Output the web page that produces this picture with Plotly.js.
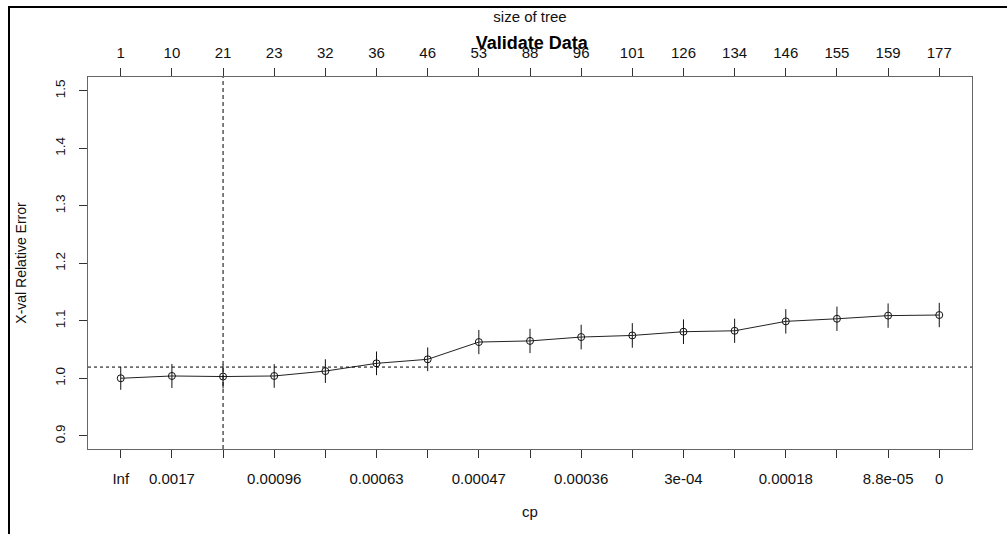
<!DOCTYPE html>
<html>
<head>
<meta charset="utf-8">
<script src="https://cdn.plot.ly/plotly-3.0.1.min.js"></script>
<style>
  html, body { margin: 0; padding: 0; background: #fff; }
  #wrap { position: relative; width: 1007px; height: 534px; overflow: hidden; }
  #chart { position: absolute; left: 0; top: 0; width: 1007px; height: 534px; }
  #frame { position: absolute; left: 8px; top: 6px; right: -4px; bottom: -4px;
           border-top: 2px solid #000; border-left: 2px solid #000; pointer-events: none; }
</style>
</head>
<body>
<div id="wrap">
  <div id="chart"></div>
  <div id="frame"></div>
</div>
<script>
// ---- data ----
const sizeOfTree = [1, 10, 21, 23, 32, 36, 46, 53, 88, 96, 101, 126, 134, 146, 155, 159, 177];
const cpLabels = ["Inf", "0.0017", "", "0.00096", "", "0.00063", "", "0.00047", "", "0.00036", "", "3e-04", "", "0.00018", "", "8.8e-05", "0"];
const positions = [1, 2, 3, 4, 5, 6, 7, 8, 9, 10, 11, 12, 13, 14, 15, 16, 17];
const xerror = [1.000, 1.004, 1.003, 1.004, 1.0125, 1.026, 1.033, 1.063, 1.065, 1.0717, 1.0745, 1.081, 1.0826, 1.099, 1.1035, 1.109, 1.110];
const xstd = [0.0200, 0.0209, 0.0207, 0.0206, 0.0206, 0.0206, 0.0206, 0.0210, 0.0212, 0.0214, 0.0214, 0.0214, 0.0210, 0.0212, 0.0212, 0.0212, 0.0212];
const yTickVals = [0.9, 1.0, 1.1, 1.2, 1.3, 1.4, 1.5];
const yTickText = ["0.9", "1.0", "1.1", "1.2", "1.3", "1.4", "1.5"];
const thresholdLine = 1.0195;   // min xerror + its std
const selectedPosition = 3;     // chosen tree (size 21)

const FONT = "Liberation Sans, Arial, sans-serif";
const xRange = [0.36, 17.64];
const yRange = [0.877, 1.524];

const traces = [
  {
    x: positions, y: xerror, type: "scatter", mode: "lines+markers",
    line: { color: "#222", width: 1 },
    marker: { symbol: "circle-open", size: 7, color: "#111", line: { width: 1 } },
    error_y: { type: "data", array: xstd, visible: true, color: "#111", thickness: 1, width: 0 },
    hoverinfo: "x+y", showlegend: false
  },
  {
    x: positions, y: xerror, xaxis: "x2", type: "scatter", mode: "markers",
    marker: { opacity: 0, size: 1 }, hoverinfo: "skip", showlegend: false
  }
];

const layout = {
  width: 1007, height: 534,
  margin: { l: 88, r: 35, t: 77, b: 85, pad: 0 },
  paper_bgcolor: "#fff", plot_bgcolor: "#fff",
  font: { family: FONT, size: 14, color: "#111" },
  showlegend: false,
  title: {
    text: "<b>Validate Data</b>", font: { family: FONT, size: 18, color: "#000" },
    x: 0.528, xanchor: "center", xref: "container",
    y: 1 - 43 / 534, yanchor: "middle", yref: "container"
  },
  xaxis: {
    range: xRange, tickmode: "array", tickvals: positions, ticktext: cpLabels,
    ticks: "outside", ticklen: 8, tickwidth: 1, tickcolor: "#333",
    showline: true, linecolor: "#666", linewidth: 1, mirror: true,
    showgrid: false, zeroline: false,
    tickfont: { family: FONT, size: 15, color: "#111" },
    ticklabelstandoff: 8,
    title: { text: "cp", font: { family: FONT, size: 15, color: "#111" }, standoff: 20 }
  },
  xaxis2: {
    overlaying: "x", side: "top", anchor: "y", range: xRange,
    tickmode: "array", tickvals: positions, ticktext: sizeOfTree.map(String),
    ticks: "outside", ticklen: 8, tickwidth: 1, tickcolor: "#333",
    showline: false, showgrid: false, zeroline: false,
    tickfont: { family: FONT, size: 15, color: "#111" },
    ticklabelstandoff: 4,
    title: { text: "size of tree", font: { family: FONT, size: 15, color: "#111" }, standoff: 17 }
  },
  yaxis: {
    range: yRange, tickmode: "array", tickvals: yTickVals, ticktext: yTickText,
    tickangle: -90,
    ticks: "outside", ticklen: 8, tickwidth: 1, tickcolor: "#333",
    showline: true, linecolor: "#666", linewidth: 1, mirror: true,
    showgrid: false, zeroline: false,
    tickfont: { family: FONT, size: 13.5, color: "#111" },
    ticklabelstandoff: 9,
    title: { text: "X-val Relative Error", font: { family: FONT, size: 14, color: "#111" }, standoff: 22 }
  },
  shapes: [
    { type: "line", xref: "paper", x0: 0, x1: 1, yref: "y", y0: thresholdLine, y1: thresholdLine,
      line: { color: "#000", width: 1, dash: "dot" } },
    { type: "line", xref: "x", x0: selectedPosition, x1: selectedPosition, yref: "paper", y0: 0, y1: 1,
      line: { color: "#000", width: 1, dash: "4px,3px" } }
  ]
};

Plotly.newPlot("chart", traces, layout, { displayModeBar: false, staticPlot: true });
</script>
</body>
</html>
